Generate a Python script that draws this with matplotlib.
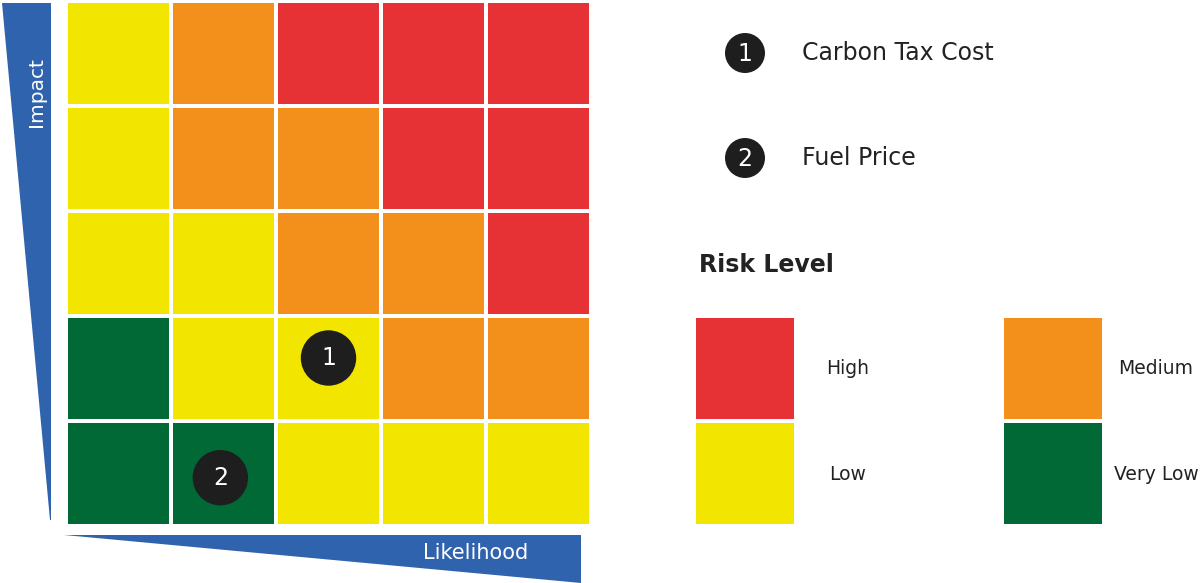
"""Risk heat map: impact vs likelihood with two plotted risks."""

import matplotlib

matplotlib.use("Agg")
import matplotlib.pyplot as plt
from matplotlib.patches import Circle, Polygon, Rectangle

# risk level per cell, top row = highest impact, columns = likelihood 1..5
risk_grid = [
    ["Low", "Medium", "High", "High", "High"],
    ["Low", "Medium", "Medium", "High", "High"],
    ["Low", "Low", "Medium", "Medium", "High"],
    ["Very Low", "Low", "Low", "Medium", "Medium"],
    ["Very Low", "Very Low", "Low", "Low", "Low"],
]
level_names = ["High", "Medium", "Low", "Very Low"]
level_colors = ["#E63234", "#F3901B", "#F2E500", "#006935"]

risk_labels = ["Carbon Tax Cost", "Fuel Price"]
risk_likelihood = [3.0, 1.97]
risk_impact = [2.1, 0.96]

BLUE = "#3063AE"
DARK = "#1E1E1E"
TEXT = "#222222"
W, H = 1200, 583

fig = plt.figure(figsize=(W / 100, H / 100), dpi=100)

# background axes in pixel coordinates (origin top-left)
bg = fig.add_axes([0, 0, 1, 1])
bg.set_xlim(0, W)
bg.set_ylim(H, 0)
bg.axis("off")

# axis wedges
bg.add_patch(Polygon([(2, 3), (51, 3), (51, 520), (50, 520)], closed=True, color=BLUE, lw=0))
bg.add_patch(Polygon([(64, 535), (581, 535), (581, 583)], closed=True, color=BLUE, lw=0))
bg.text(37, 92, "Impact", rotation=90, color="white", fontsize=14.5, ha="center", va="center")
bg.text(476, 553, "Likelihood", color="white", fontsize=15, ha="center", va="center")

# grid axes: likelihood on x, impact on y
left, right, top, bottom = 66, 591, 1, 526
ax = fig.add_axes([left / W, 1 - bottom / H, (right - left) / W, (bottom - top) / H])
ax.set_xlim(0.5, 5.5)
ax.set_ylim(0.5, 5.5)
ax.axis("off")
ax.patch.set_alpha(0)

gap = 2 / 105
n = len(risk_grid)
for r, row in enumerate(risk_grid):
    impact = n - r
    for c, level in enumerate(row):
        likelihood = c + 1
        color = level_colors[level_names.index(level)]
        ax.add_patch(Rectangle((likelihood - 0.5 + gap, impact - 0.5 + gap), 1 - 2 * gap, 1 - 2 * gap,
                               color=color, lw=0))

radius = 27.7 / 105
for i, (x, y) in enumerate(zip(risk_likelihood, risk_impact), start=1):
    ax.add_patch(Circle((x, y), radius, color=DARK, lw=0))
    ax.text(x, y, str(i), color="white", fontsize=17, ha="center", va="center")

# legend of risks
for i, label in enumerate(risk_labels):
    cy = 53 + i * 105
    bg.add_patch(Circle((745, cy), 20, color=DARK, lw=0))
    bg.text(745, cy + 1, str(i + 1), color="white", fontsize=17, ha="center", va="center")
    bg.text(802, cy, label, color=TEXT, fontsize=17, ha="left", va="center")

# risk level legend
bg.text(699, 265, "Risk Level", color=TEXT, fontsize=17, fontweight="bold", ha="left", va="center")
for k, (name, color) in enumerate(zip(level_names, level_colors)):
    col, row = k % 2, k // 2
    x0 = 696 + col * 308
    y0 = 318 + row * 105
    bg.add_patch(Rectangle((x0, y0), 98, 101, color=color, lw=0))
    bg.text(x0 + 152, y0 + 51, name, color=TEXT, fontsize=13.5, ha="center", va="center")

fig.savefig("out.png", dpi=100)
